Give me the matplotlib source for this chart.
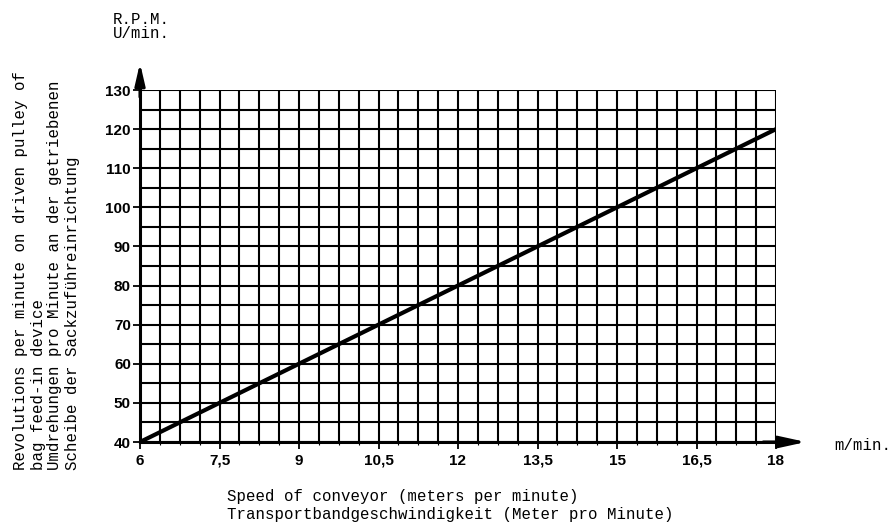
import numpy as np
import matplotlib.pyplot as plt

speed = [6, 18]
rpm = [40, 120]
x_ticks = [6, 7.5, 9, 10.5, 12, 13.5, 15, 16.5, 18]
x_tick_labels = ["6", "7,5", "9", "10,5", "12", "13,5", "15", "16,5", "18"]
y_ticks = [40, 50, 60, 70, 80, 90, 100, 110, 120, 130]
x_grid_step = 0.375
y_grid_step = 5

W, H = 892, 526
fig = plt.figure(figsize=(W / 100, H / 100), dpi=100)
L, R, T, B = 140, 776, 90, 442
ax = fig.add_axes([L / W, 1 - B / H, (R - L) / W, (B - T) / H])
ax.set_xlim(6, 18)
ax.set_ylim(40, 130)

xg = np.arange(6, 18 + 1e-9, x_grid_step)
yg = np.arange(40, 130 + 1e-9, y_grid_step)
for v in xg:
    ax.axvline(v, color='black', lw=1.5, zorder=1)
for v in yg:
    ax.axhline(v, color='black', lw=1.5, zorder=1)

ax.plot(speed, rpm, color='black', lw=3.0, zorder=3, solid_capstyle='butt')

for s in ['top', 'right']:
    ax.spines[s].set_visible(False)
ax.spines['left'].set_linewidth(2.2)
ax.spines['bottom'].set_linewidth(2.2)

sans = 'Liberation Sans'
ax.set_xticks(x_ticks)
ax.set_xticklabels(x_tick_labels, fontweight='bold', fontsize=11, family=sans)
ax.set_xticks(xg, minor=True)
ax.set_yticks(y_ticks)
ax.set_yticklabels([str(v) for v in y_ticks], fontweight='bold', fontsize=11, family=sans)
ax.tick_params(axis='y', which='major', direction='out', length=5, width=1.3, pad=1.5)
ax.tick_params(axis='x', which='major', direction='out', length=5, width=1.3, pad=3.5)
ax.tick_params(axis='x', which='minor', direction='out', length=2, width=0.8)

# arrows
ax.annotate('', xy=((806 - L) / (R - L), 0), xytext=(0.98, 0), xycoords='axes fraction',
            arrowprops=dict(arrowstyle='-|>,head_length=1.6,head_width=0.35', color='black', lw=2.2,
                            shrinkA=0, shrinkB=0),
            annotation_clip=False)
ax.annotate('', xy=(0, (B - 63) / (B - T)), xytext=(0, 0.98), xycoords='axes fraction',
            arrowprops=dict(arrowstyle='-|>,head_length=1.3,head_width=0.3', color='black', lw=2.2,
                            shrinkA=0, shrinkB=0),
            annotation_clip=False)

mono = 'Liberation Mono'
fs = 11.3
fig.text(113 / W, 1 - 19 / H, "R.P.M.", family=mono, fontsize=fs, va='center', ha='left')
fig.text(113 / W, 1 - 34 / H, "U/min.", family=mono, fontsize=fs, va='center', ha='left')
fig.text(834 / W, 1 - 445 / H, "m/min.", family=mono, fontsize=fs, va='center', ha='left')
fig.text(227 / W, 1 - 497 / H, "Speed of conveyor (meters per minute)", family=mono, fontsize=fs,
         va='center', ha='left')
fig.text(227 / W, 1 - 515 / H, "Transportbandgeschwindigkeit (Meter pro Minute)", family=mono, fontsize=fs,
         va='center', ha='left')

ylab = ["Revolutions per minute on driven pulley of", "bag feed-in device",
        "Umdrehungen pro Minute an der getriebenen", "Scheibe der Sackzuführeinrichtung"]
xs = [20, 38, 55, 72]
for t, xp in zip(ylab, xs):
    fig.text(xp / W, 1 - 470 / H, t, family=mono, fontsize=fs, rotation=90,
             va='center', ha='left', rotation_mode='anchor')

fig.savefig('out.png', dpi=100)
